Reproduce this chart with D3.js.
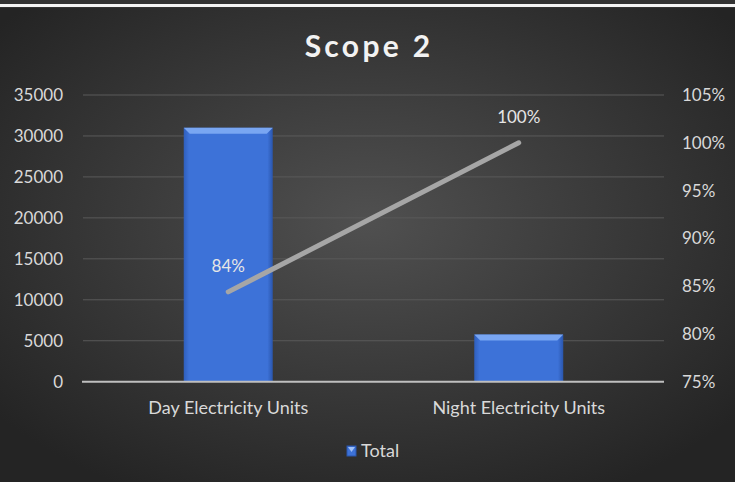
<!DOCTYPE html>
<html><head><meta charset="utf-8">
<script src="https://cdn.jsdelivr.net/npm/d3@7"></script>
<style>html,body{margin:0;padding:0;background:#2b2b2b;overflow:hidden}</style>
</head><body>
<svg id="c" width="735" height="482"></svg>
<script>
const categories = ["Day Electricity Units", "Night Electricity Units"];
const totals = [31000, 5750];
const cumulative = [0.844, 1.0];
const leftTicks = [0, 5000, 10000, 15000, 20000, 25000, 30000, 35000];
const rightTicks = [0.75, 0.80, 0.85, 0.90, 0.95, 1.00, 1.05];
const title = "Scope 2";
const legendLabel = "Total";

const svg = d3.select("#c");
const W = 735, H = 482;
const defs = svg.append("defs");
const rg = defs.append("radialGradient").attr("id","bg").attr("cx","50%").attr("cy","45%").attr("r","65%");
rg.append("stop").attr("offset","0%").attr("stop-color","#505050");
rg.append("stop").attr("offset","100%").attr("stop-color","#242424");
const bg = defs.append("linearGradient").attr("id","bar").attr("x1","0").attr("x2","1").attr("y1","0").attr("y2","0");
bg.append("stop").attr("offset","0%").attr("stop-color","#2f5fbd");
bg.append("stop").attr("offset","6%").attr("stop-color","#3d72d8");
bg.append("stop").attr("offset","94%").attr("stop-color","#3d72d8");
bg.append("stop").attr("offset","100%").attr("stop-color","#2a56ad");

svg.append("rect").attr("width",W).attr("height",H).attr("fill","#333");
svg.append("rect").attr("x",0).attr("y",8).attr("width",W).attr("height",H-8).attr("fill","url(#bg)");
svg.append("rect").attr("x",0).attr("y",4).attr("width",W).attr("height",3).attr("fill","#f4f4f4");

const font = "Lato, 'Open Sans', sans-serif";
const L = 83, R = 664, T = 95, B = 381.7;
const x = d3.scaleBand().domain(categories).range([L, R]).paddingInner(0.0).paddingOuter(0);
const y = d3.scaleLinear().domain([0, 35000]).range([B, T]);
const y2 = d3.scaleLinear().domain([0.75, 1.05]).range([B, T]);

svg.append("text").attr("x",369).attr("y",57).attr("text-anchor","middle")
  .attr("font-family",font).attr("font-weight","bold").attr("font-size",30)
  .attr("letter-spacing",3.3).attr("fill","#f2f2f2").text(title);

// gridlines
svg.append("g").selectAll("line").data(leftTicks.filter(d=>d>0)).join("line")
  .attr("x1",L).attr("x2",R).attr("y1",d=>y(d)).attr("y2",d=>y(d))
  .attr("stroke","#5a5a5a").attr("stroke-width",1);

// left axis labels
const la = svg.append("g").attr("transform",`translate(${L},0)`)
  .call(d3.axisLeft(y).tickValues(leftTicks).tickSize(0).tickPadding(20).tickFormat(d3.format("d")));
la.select(".domain").remove();
la.selectAll("text").attr("font-family",font).attr("font-size",17).attr("fill","#d9d9d9");

const ra = svg.append("g").attr("transform",`translate(${R},0)`)
  .call(d3.axisRight(y2).tickValues(rightTicks).tickSize(0).tickPadding(18).tickFormat(d3.format(".0%")));
ra.select(".domain").remove();
ra.selectAll("text").attr("font-family",font).attr("font-size",17).attr("fill","#d9d9d9");

// bars
const bw = 89;
const bars = svg.append("g").selectAll("g").data(categories).join("g");
bars.append("rect").attr("x",(d)=>x(d)+x.bandwidth()/2-bw/2).attr("width",bw)
  .attr("y",(d,i)=>y(totals[i])).attr("height",(d,i)=>B-y(totals[i]))
  .attr("fill","url(#bar)");
bars.append("path").attr("d",(d,i)=>{
  const x0 = x(d)+x.bandwidth()/2-bw/2, y0 = y(totals[i]);
  return `M${x0},${y0}L${x0+bw},${y0}L${x0+bw-6},${y0+6}L${x0+6},${y0+6}Z`;
}).attr("fill","#79a6f2");

// x axis line
svg.append("line").attr("x1",L-1).attr("x2",R).attr("y1",B).attr("y2",B)
  .attr("stroke","#bfbfbf").attr("stroke-width",2);

// category labels
const xa = svg.append("g").attr("transform",`translate(0,${B})`)
  .call(d3.axisBottom(x).tickSize(0).tickPadding(20));
xa.select(".domain").remove();
xa.selectAll("text").attr("font-family",font).attr("font-size",18).attr("fill","#d9d9d9");

// line
const pts = categories.map((c,i)=>[x(c)+x.bandwidth()/2, y2(cumulative[i])]);
svg.append("path").attr("d",d3.line()(pts)).attr("fill","none")
  .attr("stroke","#a6a6a6").attr("stroke-width",5).attr("stroke-linecap","round");

svg.append("g").selectAll("text").data(pts).join("text")
  .attr("x",d=>d[0]).attr("y",d=>d[1]-20)
  .attr("text-anchor","middle").attr("font-family",font).attr("font-size",17).attr("fill","#e6e6e6")
  .text((d,i)=>d3.format(".0%")(cumulative[i]));

// legend
const lg = svg.append("g").attr("transform","translate(347,446)");
lg.append("rect").attr("width",9).attr("height",10).attr("fill","#3d72d8").attr("stroke","#2a56ad");
lg.append("path").attr("d","M1,1L8,1L4.5,6Z").attr("fill","#9fc0f7");
lg.append("text").attr("x",14).attr("y",11).attr("font-family",font).attr("font-size",18).attr("fill","#d9d9d9").text(legendLabel);
</script>
</body></html>
